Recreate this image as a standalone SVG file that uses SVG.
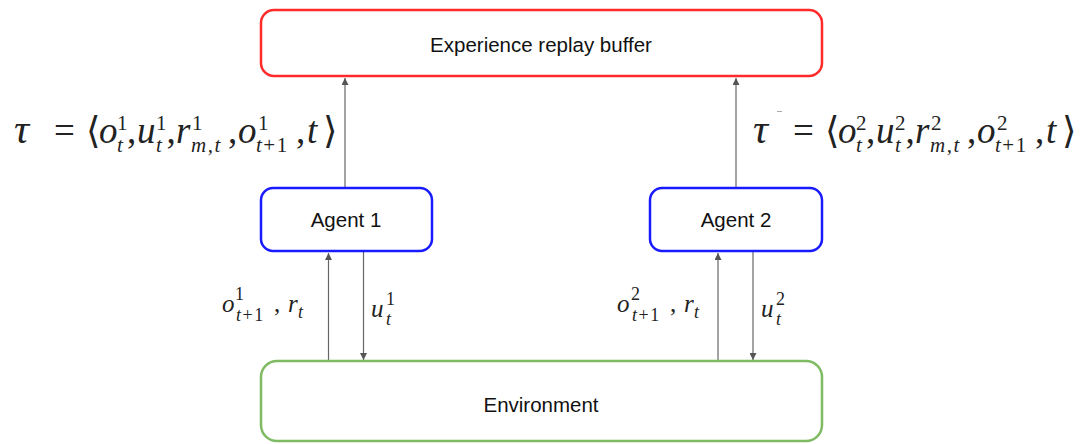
<svg xmlns="http://www.w3.org/2000/svg" width="1080" height="444" viewBox="0 0 1080 444">
<style>
.box{fill:#fff;stroke-width:2.5}
.red{stroke:#ff2a2a}
.blue{stroke:#1a1aff}
.green{stroke:#7fbb62}
.lbl{font-family:"Liberation Sans",Arial,sans-serif;font-size:20.5px;fill:#111;text-anchor:middle}
.conn{stroke:#666;stroke-width:1.2;fill:none}
.m{font-family:"Liberation Serif","DejaVu Serif",serif;fill:#222}
.i{font-style:italic}
.big{font-size:37px}
.tau{font-size:42px}
.sc{font-size:21px}
.mid{font-size:25px}
.ms{font-size:18px}
.ls{letter-spacing:1.5px}
</style>
<defs>
<marker id="ah" viewBox="0 0 10 10" refX="10" refY="5" markerWidth="7" markerHeight="7" markerUnits="userSpaceOnUse" orient="auto">
<path d="M0,0 L10,5 L0,10 z" fill="#555"/>
</marker>
</defs>

<g id="connectors">
<line class="conn" x1="345" y1="188" x2="345" y2="78" marker-end="url(#ah)"/>
<line class="conn" x1="736" y1="188" x2="736" y2="78" marker-end="url(#ah)"/>
<line class="conn" x1="328.5" y1="361" x2="328.5" y2="253" marker-end="url(#ah)"/>
<line class="conn" x1="363.5" y1="252" x2="363.5" y2="360" marker-end="url(#ah)"/>
<line class="conn" x1="718" y1="361" x2="718" y2="253" marker-end="url(#ah)"/>
<line class="conn" x1="753" y1="252" x2="753" y2="360" marker-end="url(#ah)"/>
</g>

<g id="buffer">
<rect class="box red" x="261" y="10" width="561" height="66" rx="13"/>
<text class="lbl" x="541" y="52">Experience replay buffer</text>
</g>

<g id="agent1">
<rect class="box blue" x="261" y="188" width="171" height="63" rx="12"/>
<text class="lbl" x="346" y="227">Agent 1</text>
</g>

<g id="agent2">
<rect class="box blue" x="650" y="188" width="172" height="63" rx="12"/>
<text class="lbl" x="736" y="227">Agent 2</text>
</g>

<g id="environment">
<rect class="box green" x="261" y="361" width="561" height="80" rx="16"/>
<text class="lbl" x="541" y="412">Environment</text>
</g>

<g id="tau1" class="m">
<text class="tau i" x="14" y="143">τ</text>
<text class="big" x="54" y="143">=</text>
<text class="big" x="86" y="143">⟨</text>
<text class="big i" x="99" y="143">o</text>
<text class="sc" x="117" y="130">1</text>
<text class="sc i" x="117" y="152">t</text>
<text class="big" x="127" y="143">,</text>
<text class="big i" x="137" y="143">u</text>
<text class="sc" x="156" y="130">1</text>
<text class="sc i" x="156" y="152">t</text>
<text class="big" x="166.5" y="143">,</text>
<text class="big i" x="176" y="143">r</text>
<text class="sc" x="192" y="130">1</text>
<text class="sc i ls" x="191" y="152">m,t</text>
<text class="big" x="228" y="143">,</text>
<text class="big i" x="238" y="143">o</text>
<text class="sc" x="258" y="130">1</text>
<text class="sc ls" x="256" y="152"><tspan class="i">t</tspan>+1</text>
<text class="big" x="296" y="143">,</text>
<text class="big i" x="307" y="143">t</text>
<text class="big" x="323" y="143">⟩</text>
</g>

<g id="tau2" class="m" transform="translate(739,0)">
<text class="tau i" x="14" y="143">τ</text>
<text class="big" x="54" y="143">=</text>
<text class="big" x="86" y="143">⟨</text>
<text class="big i" x="99" y="143">o</text>
<text class="sc" x="117" y="130">2</text>
<text class="sc i" x="117" y="152">t</text>
<text class="big" x="127" y="143">,</text>
<text class="big i" x="137" y="143">u</text>
<text class="sc" x="156" y="130">2</text>
<text class="sc i" x="156" y="152">t</text>
<text class="big" x="166.5" y="143">,</text>
<text class="big i" x="176" y="143">r</text>
<text class="sc" x="192" y="130">2</text>
<text class="sc i ls" x="191" y="152">m,t</text>
<text class="big" x="228" y="143">,</text>
<text class="big i" x="238" y="143">o</text>
<text class="sc" x="258" y="130">2</text>
<text class="sc ls" x="256" y="152"><tspan class="i">t</tspan>+1</text>
<text class="big" x="296" y="143">,</text>
<text class="big i" x="307" y="143">t</text>
<text class="big" x="323" y="143">⟩</text>
</g>
<line x1="777" y1="111.5" x2="782" y2="111.5" stroke="#aaa" stroke-width="1"/>

<g id="obs1" class="m">
<text class="mid i" x="222" y="312">o</text>
<text class="ms" x="235" y="300">1</text>
<text class="ms ls" x="236" y="321"><tspan class="i">t</tspan>+1</text>
<text class="mid" x="274" y="312">,</text>
<text class="mid i" x="288" y="312">r</text>
<text class="ms i" x="298" y="318">t</text>
</g>
<g id="act1" class="m">
<text class="mid i" x="371" y="317">u</text>
<text class="ms" x="386" y="305">1</text>
<text class="ms i" x="386" y="325">t</text>
</g>
<g id="obs2" class="m">
<text class="mid i" x="617" y="312">o</text>
<text class="ms" x="631" y="300">2</text>
<text class="ms ls" x="632" y="321"><tspan class="i">t</tspan>+1</text>
<text class="mid" x="670" y="312">,</text>
<text class="mid i" x="684" y="312">r</text>
<text class="ms i" x="694" y="318">t</text>
</g>
<g id="act2" class="m">
<text class="mid i" x="761" y="317">u</text>
<text class="ms" x="776" y="305">2</text>
<text class="ms i" x="776" y="325">t</text>
</g>
</svg>
